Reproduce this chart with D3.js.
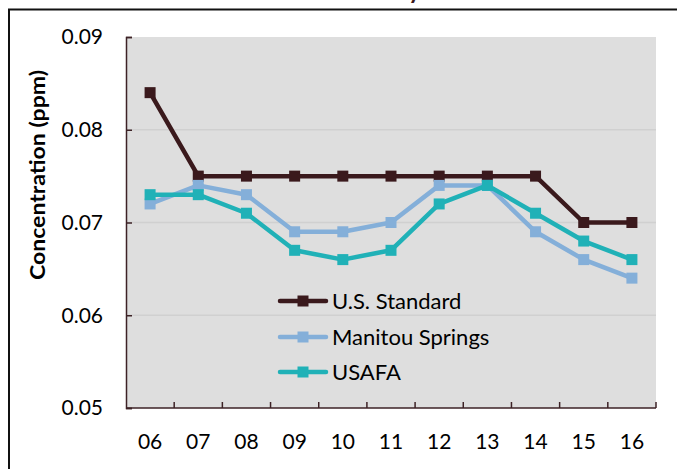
<!DOCTYPE html>
<html>
<head>
<meta charset="utf-8">
<script src="https://cdn.jsdelivr.net/npm/d3@7/dist/d3.min.js"></script>
<style>
  html, body { margin: 0; padding: 0; background: #ffffff; }
  svg { display: block; }
</style>
</head>
<body>
<svg id="chart" width="677" height="469"></svg>
<script>
// Ozone concentration by year (ppm)
const years = ["06", "07", "08", "09", "10", "11", "12", "13", "14", "15", "16"];
const usStandard = [0.084, 0.075, 0.075, 0.075, 0.075, 0.075, 0.075, 0.075, 0.075, 0.070, 0.070];
const manitouSprings = [0.072, 0.074, 0.073, 0.069, 0.069, 0.070, 0.074, 0.074, 0.069, 0.066, 0.064];
const usafa = [0.073, 0.073, 0.071, 0.067, 0.066, 0.067, 0.072, 0.074, 0.071, 0.068, 0.066];
const yTicks = [0.05, 0.06, 0.07, 0.08, 0.09];
const seriesNames = ["U.S. Standard", "Manitou Springs", "USAFA"];

const series = [
  { name: seriesNames[0], values: usStandard, color: "#3a191c" },
  { name: seriesNames[1], values: manitouSprings, color: "#84afd9" },
  { name: seriesNames[2], values: usafa, color: "#20b1b7" }
];

const FONT = "Lato, 'Open Sans', sans-serif";
const svg = d3.select("#chart");

const plot = { left: 126, right: 656, top: 37, bottom: 408 };

const x = d3.scaleBand().domain(years).range([plot.left, plot.right]).padding(0);
const y = d3.scaleLinear().domain([0.05, 0.09]).range([plot.bottom, plot.top]);
const cx = d => x(d) + x.bandwidth() / 2;

// outer chart frame (runs past the window on the right and bottom)
svg.append("rect")
  .attr("x", 9).attr("y", 9.5)
  .attr("width", 700).attr("height", 500)
  .attr("fill", "none").attr("stroke", "#111").attr("stroke-width", 2);

// title, sitting above the visible area
svg.append("text")
  .attr("x", 421).attr("y", -1)
  .attr("text-anchor", "end")
  .attr("font-family", FONT).attr("font-weight", "bold").attr("font-size", 24)
  .attr("fill", "#3a191c")
  .text("Ozone Summary");

// plot background
svg.append("rect")
  .attr("x", plot.left).attr("y", plot.top)
  .attr("width", plot.right - plot.left).attr("height", plot.bottom - plot.top)
  .attr("fill", "#dedede");

// horizontal gridlines
svg.append("g").selectAll("line")
  .data(yTicks.filter(t => t > 0.05 && t < 0.09))
  .join("line")
  .attr("x1", plot.left).attr("x2", plot.right)
  .attr("y1", d => y(d)).attr("y2", d => y(d))
  .attr("stroke", "#d0d0d0").attr("stroke-width", 1.5);

// y axis: ticks point into the plot
const yAxis = svg.append("g")
  .attr("transform", `translate(${plot.left},0)`)
  .call(d3.axisRight(y).tickValues(yTicks).tickSize(6).tickFormat(() => ""));
yAxis.select(".domain").attr("stroke", "#3d2226").attr("stroke-width", 1.5);
yAxis.selectAll(".tick line").attr("stroke", "#3d2226").attr("stroke-width", 1.5);

// y tick labels
svg.append("g").selectAll("text")
  .data(yTicks)
  .join("text")
  .attr("x", 103).attr("y", d => y(d))
  .attr("dy", "0.35em")
  .attr("text-anchor", "end")
  .attr("font-family", FONT).attr("font-size", 21)
  .attr("fill", "#000")
  .text(d3.format(".2f"));

// x axis line with category boundary ticks pointing up
const xAxis = svg.append("g");
xAxis.append("line")
  .attr("x1", plot.left).attr("x2", plot.right)
  .attr("y1", plot.bottom).attr("y2", plot.bottom)
  .attr("stroke", "#3d2226").attr("stroke-width", 1.5);
xAxis.selectAll("line.tick")
  .data(years.map(d => x(d)).concat([plot.right]).slice(1))
  .join("line")
  .attr("class", "tick")
  .attr("x1", d => d).attr("x2", d => d)
  .attr("y1", plot.bottom).attr("y2", plot.bottom - 6)
  .attr("stroke", "#3d2226").attr("stroke-width", 1.5);

// x tick labels
svg.append("g")
  .attr("transform", `translate(0,${plot.bottom})`)
  .call(d3.axisBottom(x).tickSize(0).tickPadding(26))
  .call(g => g.select(".domain").remove())
  .call(g => g.selectAll("text")
    .attr("font-family", FONT).attr("font-size", 21).attr("fill", "#000"));

// y axis title
svg.append("text")
  .attr("transform", `translate(45,175) rotate(-90)`)
  .attr("text-anchor", "middle")
  .attr("font-family", FONT).attr("font-weight", "bold").attr("font-size", 20)
  .attr("textLength", 210).attr("lengthAdjust", "spacingAndGlyphs")
  .attr("fill", "#000")
  .text("Concentration (ppm)");

// series lines and square markers
const line = d3.line().x((v, i) => cx(years[i])).y(v => y(v));
const marker = 11;

series.forEach(s => {
  const g = svg.append("g");
  g.append("path")
    .attr("d", line(s.values))
    .attr("fill", "none").attr("stroke", s.color)
    .attr("stroke-width", 4.5).attr("stroke-linejoin", "round");
  g.selectAll("rect")
    .data(s.values)
    .join("rect")
    .attr("x", (v, i) => cx(years[i]) - marker / 2)
    .attr("y", v => y(v) - marker / 2)
    .attr("width", marker).attr("height", marker)
    .attr("fill", s.color);
});

// legend
const legendRows = [301, 337, 372];
const legend = svg.append("g");
series.forEach((s, i) => {
  const ly = legendRows[i];
  legend.append("line")
    .attr("x1", 280).attr("x2", 326).attr("y1", ly).attr("y2", ly)
    .attr("stroke", s.color).attr("stroke-width", 4.5).attr("stroke-linecap", "round");
  legend.append("rect")
    .attr("x", 303 - marker / 2).attr("y", ly - marker / 2)
    .attr("width", marker).attr("height", marker)
    .attr("fill", s.color);
  legend.append("text")
    .attr("x", 332).attr("y", ly).attr("dy", "0.35em")
    .attr("font-family", FONT).attr("font-size", 22).attr("fill", "#000")
    .text(s.name);
});
</script>
</body>
</html>
